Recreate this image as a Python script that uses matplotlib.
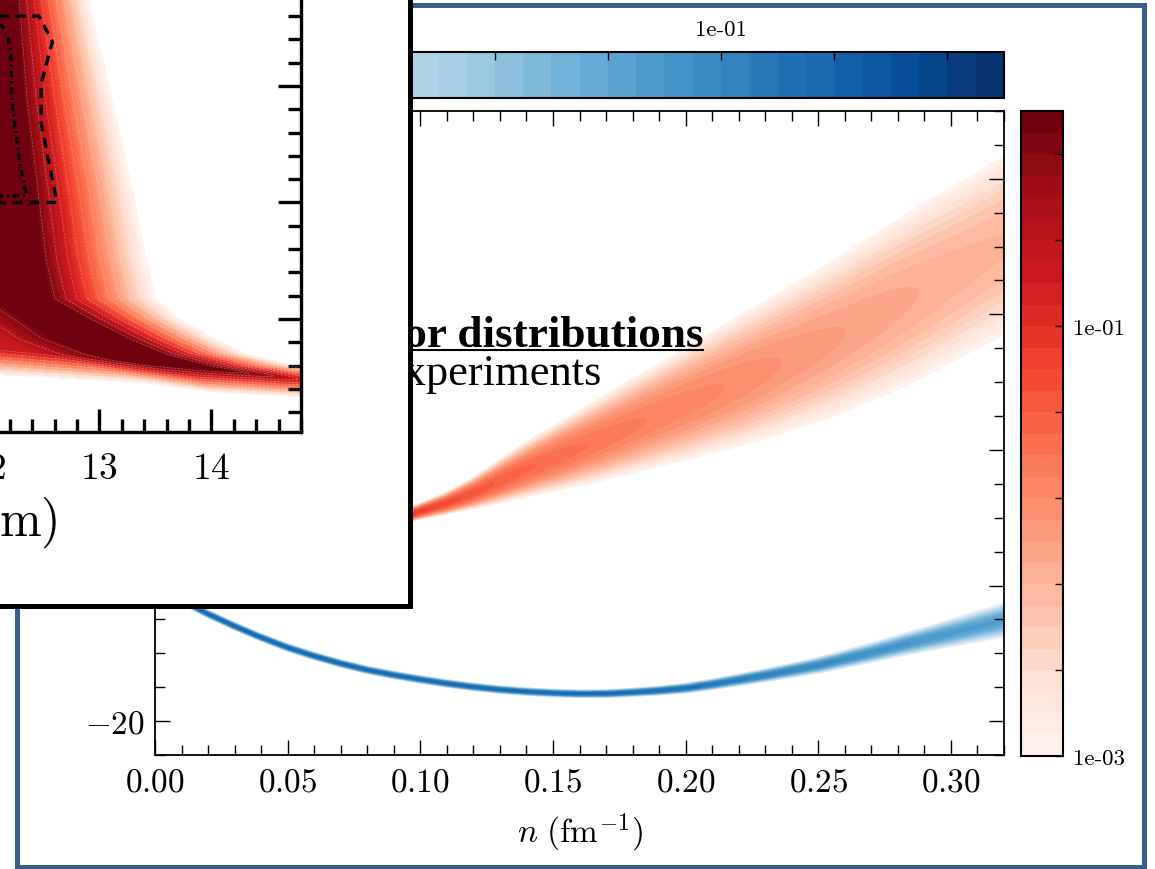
import numpy as np
import matplotlib.pyplot as plt
from matplotlib.colors import LogNorm
from matplotlib.lines import Line2D
from matplotlib.patches import Rectangle
from matplotlib.ticker import MultipleLocator

plt.rcParams['font.family'] = 'cmr10'
plt.rcParams['mathtext.fontset'] = 'cm'
plt.rcParams['axes.formatter.use_mathtext'] = True

# symmetric nuclear matter: E/A (MeV) vs n, band half width and peak density
n_snm = np.array([0.00, 0.01, 0.02, 0.03, 0.04, 0.05, 0.06, 0.07, 0.08, 0.09, 0.10,
                  0.11, 0.12, 0.13, 0.14, 0.15, 0.16, 0.17, 0.18, 0.19, 0.20, 0.21,
                  0.22, 0.23, 0.24, 0.25, 0.26, 0.27, 0.28, 0.29, 0.30, 0.31, 0.32])
e_snm = np.array([0.0, -2.2, -4.2, -6.0, -7.65, -9.15, -10.4, -11.5, -12.45, -13.2, -13.85,
                  -14.45, -14.95, -15.35, -15.65, -15.85, -15.97, -15.95, -15.75, -15.5, -15.15, -14.57,
                  -13.92, -13.24, -12.51, -11.76, -10.83, -9.9, -8.9, -7.95, -7.0, -6.05, -5.1])
w_snm = np.array([0.6, 0.6, 0.6, 0.6, 0.6, 0.6, 0.6, 0.6, 0.6, 0.6, 0.6,
                  0.6, 0.6, 0.6, 0.6, 0.6, 0.6, 0.62, 0.65, 0.7, 0.76, 0.83,
                  0.9, 1.0, 1.1, 1.22, 1.35, 1.5, 1.65, 1.85, 2.1, 2.35, 2.6])
p_snm = np.array([0.2, 0.2, 0.2, 0.2, 0.2, 0.2, 0.2, 0.2, 0.2, 0.2, 0.2,
                  0.2, 0.2, 0.2, 0.2, 0.2, 0.2, 0.2, 0.2, 0.19, 0.17, 0.15,
                  0.13, 0.115, 0.1, 0.09, 0.08, 0.072, 0.066, 0.06, 0.056, 0.052, 0.05])

# pure neutron matter
n_pnm = np.array([0.08, 0.09, 0.10, 0.11, 0.12, 0.13, 0.14, 0.15, 0.16, 0.17, 0.18, 0.19,
                  0.20, 0.21, 0.22, 0.23, 0.24, 0.25, 0.26, 0.27, 0.28, 0.29, 0.30, 0.31, 0.32])
e_pnm = np.array([8.6, 9.7, 10.95, 12.15, 13.65, 15.4, 17.15, 18.7, 20.3, 21.9, 23.55, 25.2,
                  26.8, 28.45, 30.1, 31.8, 33.6, 35.4, 37.3, 39.4, 41.5, 43.65, 45.8, 48.0, 50.2])
w_pnm = np.array([0.7, 0.9, 1.2, 1.65, 2.35, 3.25, 4.1, 4.85, 5.6, 6.3, 6.95, 7.6,
                  8.3, 8.95, 9.6, 10.2, 10.7, 11.25, 11.75, 12.15, 12.55, 12.8, 12.9, 13.0, 13.1])
p_pnm = np.array([0.09, 0.08, 0.068, 0.056, 0.046, 0.038, 0.033, 0.029, 0.026, 0.023, 0.021, 0.019,
                  0.018, 0.0165, 0.015, 0.0135, 0.012, 0.011, 0.010, 0.0092, 0.0085, 0.0078,
                  0.0072, 0.0068, 0.0065])

# inset: mass-radius region. per mass row: inner fade start, dark ridge end, outer edge
m_rows = np.array([2.545, 2.373, 1.944, 1.515, 1.258, 1.086, 1.0, 0.914, 0.85, 0.798, 0.742, 0.571])
r_in = np.array([10.32, 10.32, 10.32, 10.32, 11.39, 12.11, 12.38, 12.64, 13.0, 13.45, 13.89, 14.34])
r_dark = np.array([12.20, 12.24, 12.30, 12.40, 12.46, 12.54, 12.87, 13.22, 13.54, 13.94, 14.61, 15.05])
r_edge = np.array([12.87, 12.91, 13.13, 13.33, 13.43, 13.52, 13.73, 14.05, 14.32, 14.79, 15.59, 16.13])
# lower edge of the region per radius
r_cols = np.array([12.1, 13.0, 13.9, 14.8])
m_bdark = np.array([0.871, 0.828, 0.785, 0.760])
m_bedge = np.array([0.725, 0.708, 0.687, 0.665])

dash_r = [11.6, 12.46, 12.58, 12.48, 12.48, 12.62, 11.6]
dash_m = [2.30, 2.30, 2.19, 2.01, 1.84, 1.50, 1.50]
dot_r = [11.6, 12.13, 12.18, 12.21, 12.22, 12.26, 12.30, 12.35, 11.6]
dot_m = [2.27, 2.26, 2.22, 2.14, 1.94, 1.77, 1.64, 1.53, 1.52]

levels = np.logspace(-3, 0, 31)
cb_ticks = 10.0 ** (-3 + 0.4 * np.arange(8))
cb_labels = ['1e-03', '', '', '', '', '1e-01', '', '']

W, H = 1155, 870
fig = plt.figure(figsize=(W / 100, H / 100), dpi=100)


def rect(x0, y0, x1, y1):
    # pixel box measured from the top-left corner -> figure fraction
    return [x0 / W, 1 - y1 / H, (x1 - x0) / W, (y1 - y0) / H]


def band(ax, n, e, w, peak, cmap):
    # gaussian profile across the band, 1e-3 reached at e +- w
    t = np.linspace(-1.1, 1.1, 221)[:, None]
    X = np.tile(n, (t.size, 1))
    Y = e + w * t
    Z = peak * (1e-3 / peak) ** (t ** 2)
    return ax.contourf(X, Y, Z, levels=levels, cmap=cmap, norm=LogNorm(1e-3, 1))


# slide frame
fig.add_artist(Rectangle((16.5 / W, 1 - 867.5 / H), (1144 - 16.5) / W, (867.5 - 5.5) / H,
                         transform=fig.transFigure, fill=False, ec='#3a5f8e', lw=3.6, zorder=-1))

ax = fig.add_axes(rect(155, 112, 1004, 756))
cs_b = band(ax, n_snm, e_snm, w_snm, p_snm, 'Blues')
cs_r = band(ax, n_pnm, e_pnm, w_pnm, p_pnm, 'Reds')
ax.set_xlim(0, 0.32)
ax.set_ylim(-25, 70)
ax.xaxis.set_major_locator(MultipleLocator(0.05))
ax.xaxis.set_minor_locator(MultipleLocator(0.01))
ax.yaxis.set_major_locator(MultipleLocator(20))
ax.yaxis.set_minor_locator(MultipleLocator(5))
ax.tick_params(which='both', direction='in', top=True, right=True, width=1.0, labelsize=24)
ax.tick_params(which='major', length=10.5)
ax.tick_params(which='minor', length=7)
ax.tick_params(axis='x', pad=9)
ax.tick_params(axis='y', pad=7)
for s in ax.spines.values():
    s.set_linewidth(1.3)
ax.set_xlabel(r'$n\ (\mathrm{fm}^{-1})$', fontsize=24, labelpad=10)

cax_b = fig.add_axes(rect(155, 53, 1004, 99))
cb_b = fig.colorbar(cs_b, cax=cax_b, orientation='horizontal')
cb_b.set_ticks(cb_ticks, labels=cb_labels)
cb_b.ax.minorticks_off()
cb_b.ax.xaxis.set_ticks_position('top')
cb_b.ax.tick_params(direction='in', length=5.5, width=1, labelsize=16.5, pad=9)
cb_b.outline.set_linewidth(1.5)

cax_r = fig.add_axes(rect(1021, 112, 1063, 757))
cb_r = fig.colorbar(cs_r, cax=cax_r)
cb_r.set_ticks(cb_ticks, labels=cb_labels)
cb_r.ax.minorticks_off()
cb_r.ax.tick_params(direction='in', length=5.5, width=1, labelsize=16.5, pad=7)
cb_r.outline.set_linewidth(1.5)

# slide text, partly hidden behind the inset
t1 = fig.text(703 / W, 1 - 347 / H, 'Prior distributions', ha='right', va='baseline',
              family='Liberation Serif', weight='bold', fontsize=32.5, zorder=5)
fig.text(601 / W, 1 - 385 / H, 'from experiments', ha='right', va='baseline',
         family='Liberation Serif', fontsize=32, zorder=5)
fig.canvas.draw()
bb = t1.get_window_extent()
fig.add_artist(Line2D([bb.x0 / W, bb.x1 / W], [1 - 351 / H] * 2, transform=fig.transFigure,
                      color='k', lw=1.5, zorder=5))

# inset panel
fig.add_artist(Rectangle((-50 / W, 1 - 606.5 / H), 459.5 / W, 656.5 / H,
                         transform=fig.transFigure, fc='white', ec='black', lw=3.6, zorder=10))
axin = fig.add_axes(rect(-124.6, -29.5, 301, 433), zorder=11)
R = np.linspace(11.0, 14.8, 420)
M = np.linspace(0.515, 2.5, 520)
RR, MM = np.meshgrid(R, M)
ri = np.interp(MM, m_rows[::-1], r_in[::-1])
rd = np.interp(MM, m_rows[::-1], r_dark[::-1])
re = np.interp(MM, m_rows[::-1], r_edge[::-1])
bd = np.interp(RR, r_cols, m_bdark)
be = np.interp(RR, r_cols, m_bedge)
ua = np.clip((RR - rd) / (re - rd), 0, None)
ub = np.clip((bd - MM) / (bd - be), 0, None)
ui = np.clip((ri - RR) / 0.5, 0, 1)
Z = np.clip(10 ** (-3.05 * np.hypot(ua, ub) - 0.7 * ui), 1e-6, 0.999)
axin.contourf(RR, MM, Z, levels=levels, cmap='Reds', norm=LogNorm(1e-3, 1))
axin.contour(RR, MM, Z, levels=levels[1::3], colors='white', linewidths=0.5,
             linestyles='--', alpha=0.35)
axin.plot(dash_r, dash_m, color='k', lw=2.4, ls=(0, (3, 2)))
axin.plot(dot_r, dot_m, color='k', lw=2.4, ls=(0, (2, 1.2, 0.6, 1.2)))
axin.set_xlim(11.0, 14.8)
axin.set_ylim(0.515, 2.5)
axin.xaxis.set_major_locator(MultipleLocator(1))
axin.xaxis.set_minor_locator(MultipleLocator(0.2))
axin.yaxis.set_major_locator(MultipleLocator(0.5))
axin.yaxis.set_minor_locator(MultipleLocator(0.1))
axin.tick_params(which='both', direction='in', top=True, right=True, width=2.4,
                 labelsize=27, pad=14)
axin.tick_params(which='major', length=16.5)
axin.tick_params(which='minor', length=9.4)
for s in axin.spines.values():
    s.set_linewidth(2.4)
fig.text(58 / W, 1 - 523 / H, r'$R\ (\mathrm{km})$', ha='right', va='center',
         fontsize=36, zorder=12)

fig.savefig('out.png', dpi=100)
